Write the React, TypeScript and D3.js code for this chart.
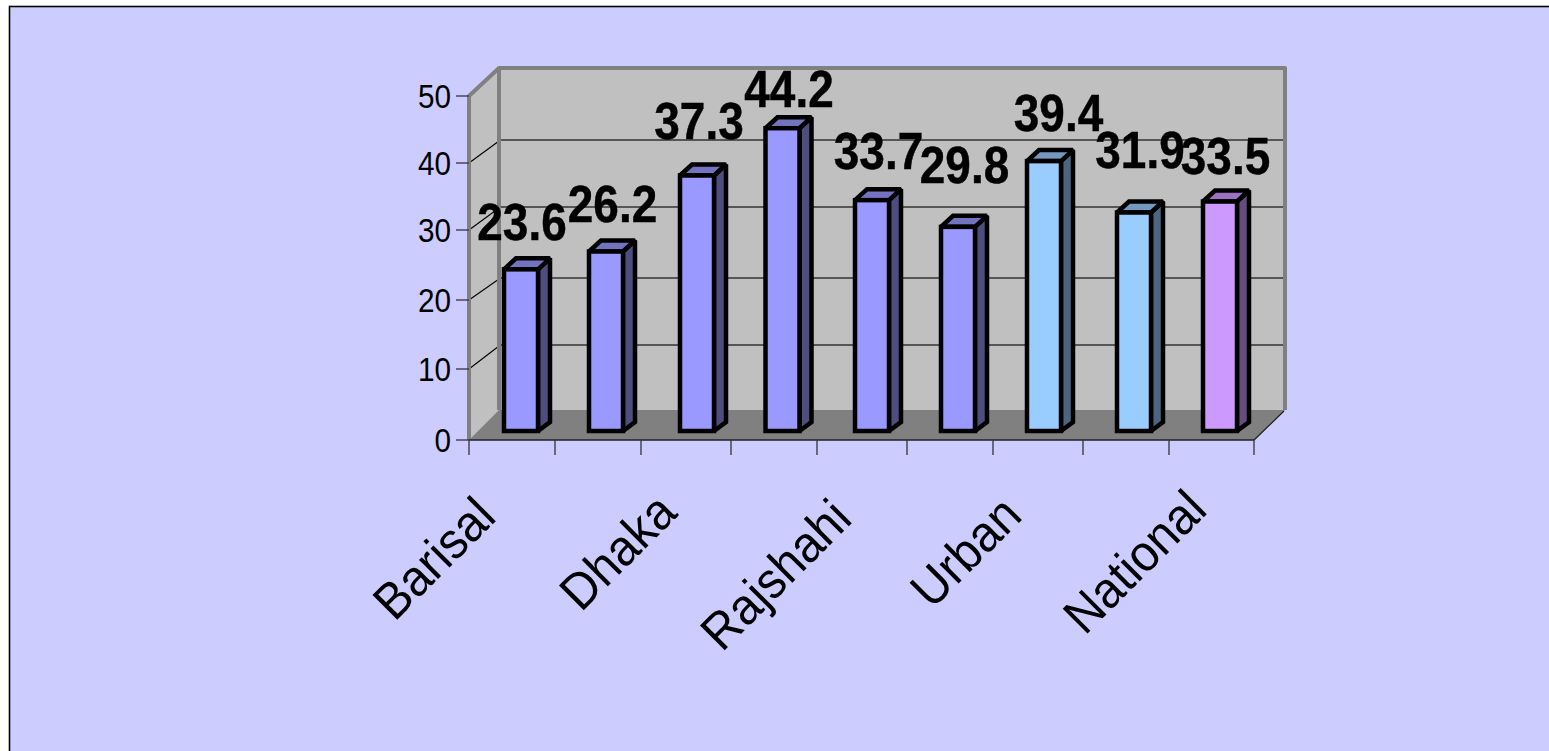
import React from "react";
import * as d3 from "d3";

// Poverty rate by division, area and nation.
const barValues = [23.6, 26.2, 37.3, 44.2, 33.7, 29.8, 39.4, 31.9, 33.5];
const categoryLabels = ["Barisal", "", "Dhaka", "", "Rajshahi", "", "Urban", "", "National"];
const valueTicks = [0, 10, 20, 30, 40, 50];
const barGroups = [0, 0, 0, 0, 0, 0, 1, 1, 2];
const faceColours = ["#9999FF", "#99CCFF", "#CC99FF"];
const sideColours = ["#4D4D80", "#4D6680", "#664D80"];
const topColours = ["#7373BF", "#7399BF", "#9973BF"];

// Axis slots, bars and wall grid steps sit on the plot's coarse, unevenly snapped device grid.
const slotSteps = [86, 86, 90, 86, 90, 86, 90, 86, 85];
const barSteps = [85, 91, 85.5, 89.5, 86, 86, 90, 86];
const frontSteps = [71, 69, 70, 67, 67];
const backSteps = [65, 67, 71, 67, 72];

// Hand placement of the data labels relative to each bar, and of the slanted category labels.
const labelShiftX = [1, 6.5, 2, 6.5, 6.5, 6.5, 14.5, 6, 5.5];
const labelLift = [29, 30, 36, 21, 31, 44, 30, 44, 28];
const categoryShiftX = [-14, 0, -7, 0, -8, 0, -14, 0, -2.5];
const categoryBaseline = [519, 0, 515, 0, 521, 0, 518, 0, 512];

const W = 1549;
const H = 751;
const frontLeft = 469;
const frontBottom = 440;
const backBottom = 410;
const wallDx = 30;
const barBase = 431;
const barUnit = 6.85;
const barStart = 504;
const barWidth = 34;
const depthX = 12;
const depthTop = -11;
const depthBottom = -9;

const cumulative = (start: number, steps: number[], sign = 1) => [
  start,
  ...steps.map((_, i) => start + sign * d3.sum(steps.slice(0, i + 1))),
];

const slotIndex = d3.range(slotSteps.length + 1);
const x = d3.scaleLinear().domain(slotIndex).range(cumulative(frontLeft, slotSteps));
const xBar = d3.scaleLinear().domain(d3.range(barValues.length)).range(cumulative(barStart, barSteps));
const yFront = d3.scaleLinear().domain(valueTicks).range(cumulative(frontBottom, frontSteps, -1));
const yBack = d3.scaleLinear().domain(valueTicks).range(cumulative(backBottom, backSteps, -1));
const yBar = d3.scaleLinear().domain([0, 50]).range([barBase, barBase - 50 * barUnit]);

const pts = (p: number[][]) => p.map((q) => q.join(",")).join(" ");

const sans = "'Liberation Sans', Arial, sans-serif";
const narrow = 0.9;
const categoryNarrow = 0.94;

export default function App() {
  const frontRight = x(slotSteps.length);
  const backRight = frontRight + wallDx + 1;
  const backLeft = frontLeft + wallDx;
  const topBack = yBack(50);
  const topFront = yFront(50);

  return (
    <svg width={W} height={H} style={{ position: "absolute", left: 0, top: 0, display: "block", background: "#fff" }} fontFamily={sans}>
      <rect x={9.5} y={6.5} width={W + 20} height={H + 20} fill="#CCCCFF" stroke="#000" strokeWidth={1.6} />

      {/* side wall, back wall and floor */}
      <polygon points={pts([[frontLeft, topFront], [backLeft, topBack], [backLeft, backBottom], [frontLeft, frontBottom]])} fill="#C0C0C0" />
      <rect x={backLeft} y={topBack} width={backRight - backLeft} height={backBottom - topBack} fill="#C0C0C0" />
      <polygon points={pts([[frontLeft, frontBottom], [backLeft, backBottom], [backRight, backBottom], [frontRight, frontBottom]])} fill="#808080" />

      {/* grid lines across both walls */}
      {valueTicks.filter((t) => t > 0 && t < 50).map((t) => (
        <g key={t} fill="none">
          <line x1={frontLeft} y1={yFront(t)} x2={backLeft} y2={yBack(t) + 1} stroke="#000" strokeWidth={1.1} />
          <line x1={backLeft} y1={yBack(t)} x2={backRight} y2={yBack(t)} stroke="#333" strokeWidth={1.3} />
        </g>
      ))}

      {/* wall outlines */}
      <polyline
        points={pts([[frontLeft, frontBottom], [frontLeft, topFront], [backLeft, topBack], [backRight, topBack], [backRight, backBottom]])}
        fill="none"
        stroke="#808080"
        strokeWidth={4}
        strokeLinejoin="round"
      />
      <line x1={backLeft} y1={topBack} x2={backLeft} y2={backBottom} stroke="#808080" strokeWidth={4} />
      <polyline points={pts([[frontLeft, frontBottom], [frontRight, frontBottom], [backRight - 1, backBottom + 1]])} fill="none" stroke="#222" strokeWidth={1.3} />

      {/* axis ticks and value labels */}
      {valueTicks.map((t) => (
        <g key={t}>
          <line x1={456} x2={frontLeft} y1={yFront(t)} y2={yFront(t)} stroke="#333" strokeWidth={1.3} />
          <text transform={`translate(451,${yFront(t) + 12}) scale(${narrow},1)`} textAnchor="end" fontSize={33} fill="#000">{t}</text>
        </g>
      ))}
      {slotIndex.map((i) => (
        <line key={i} x1={x(i)} x2={x(i)} y1={frontBottom} y2={455} stroke="#333" strokeWidth={1.3} />
      ))}

      {/* bars with their side and top faces */}
      {barValues.map((v, i) => {
        const left = xBar(i);
        const right = left + barWidth;
        const top = yBar(v);
        const g = barGroups[i];
        return (
          <g key={i} stroke="#000" strokeWidth={4.5} strokeLinejoin="miter" strokeMiterlimit={2}>
            <polygon points={pts([[right, top], [right + depthX, top + depthTop], [right + depthX, barBase + depthBottom], [right, barBase]])} fill={sideColours[g]} />
            <polygon points={pts([[left, top], [left + depthX, top + depthTop], [right + depthX, top + depthTop], [right, top]])} fill={topColours[g]} />
            <rect x={left} y={top} width={barWidth} height={barBase - top} fill={faceColours[g]} />
          </g>
        );
      })}

      {/* value labels above the bars */}
      {barValues.map((v, i) => (
        <text
          key={i}
          transform={`translate(${xBar(i) + barWidth / 2 + labelShiftX[i]},${yBar(v) - labelLift[i]}) scale(${narrow},1)`}
          textAnchor="middle"
          fontSize={51}
          fontWeight="bold"
          fill="#000"
          stroke="#000"
          strokeWidth={0.5}
        >
          {v}
        </text>
      ))}

      {/* category labels, every other slot */}
      {categoryLabels.map((c, i) =>
        c ? (
          <text
            key={i}
            transform={`translate(${x(i + 0.5) + categoryShiftX[i]},${categoryBaseline[i]}) rotate(-45) scale(${categoryNarrow},1)`}
            textAnchor="end"
            fontSize={51}
            fill="#000"
          >
            {c}
          </text>
        ) : null
      )}
    </svg>
  );
}
